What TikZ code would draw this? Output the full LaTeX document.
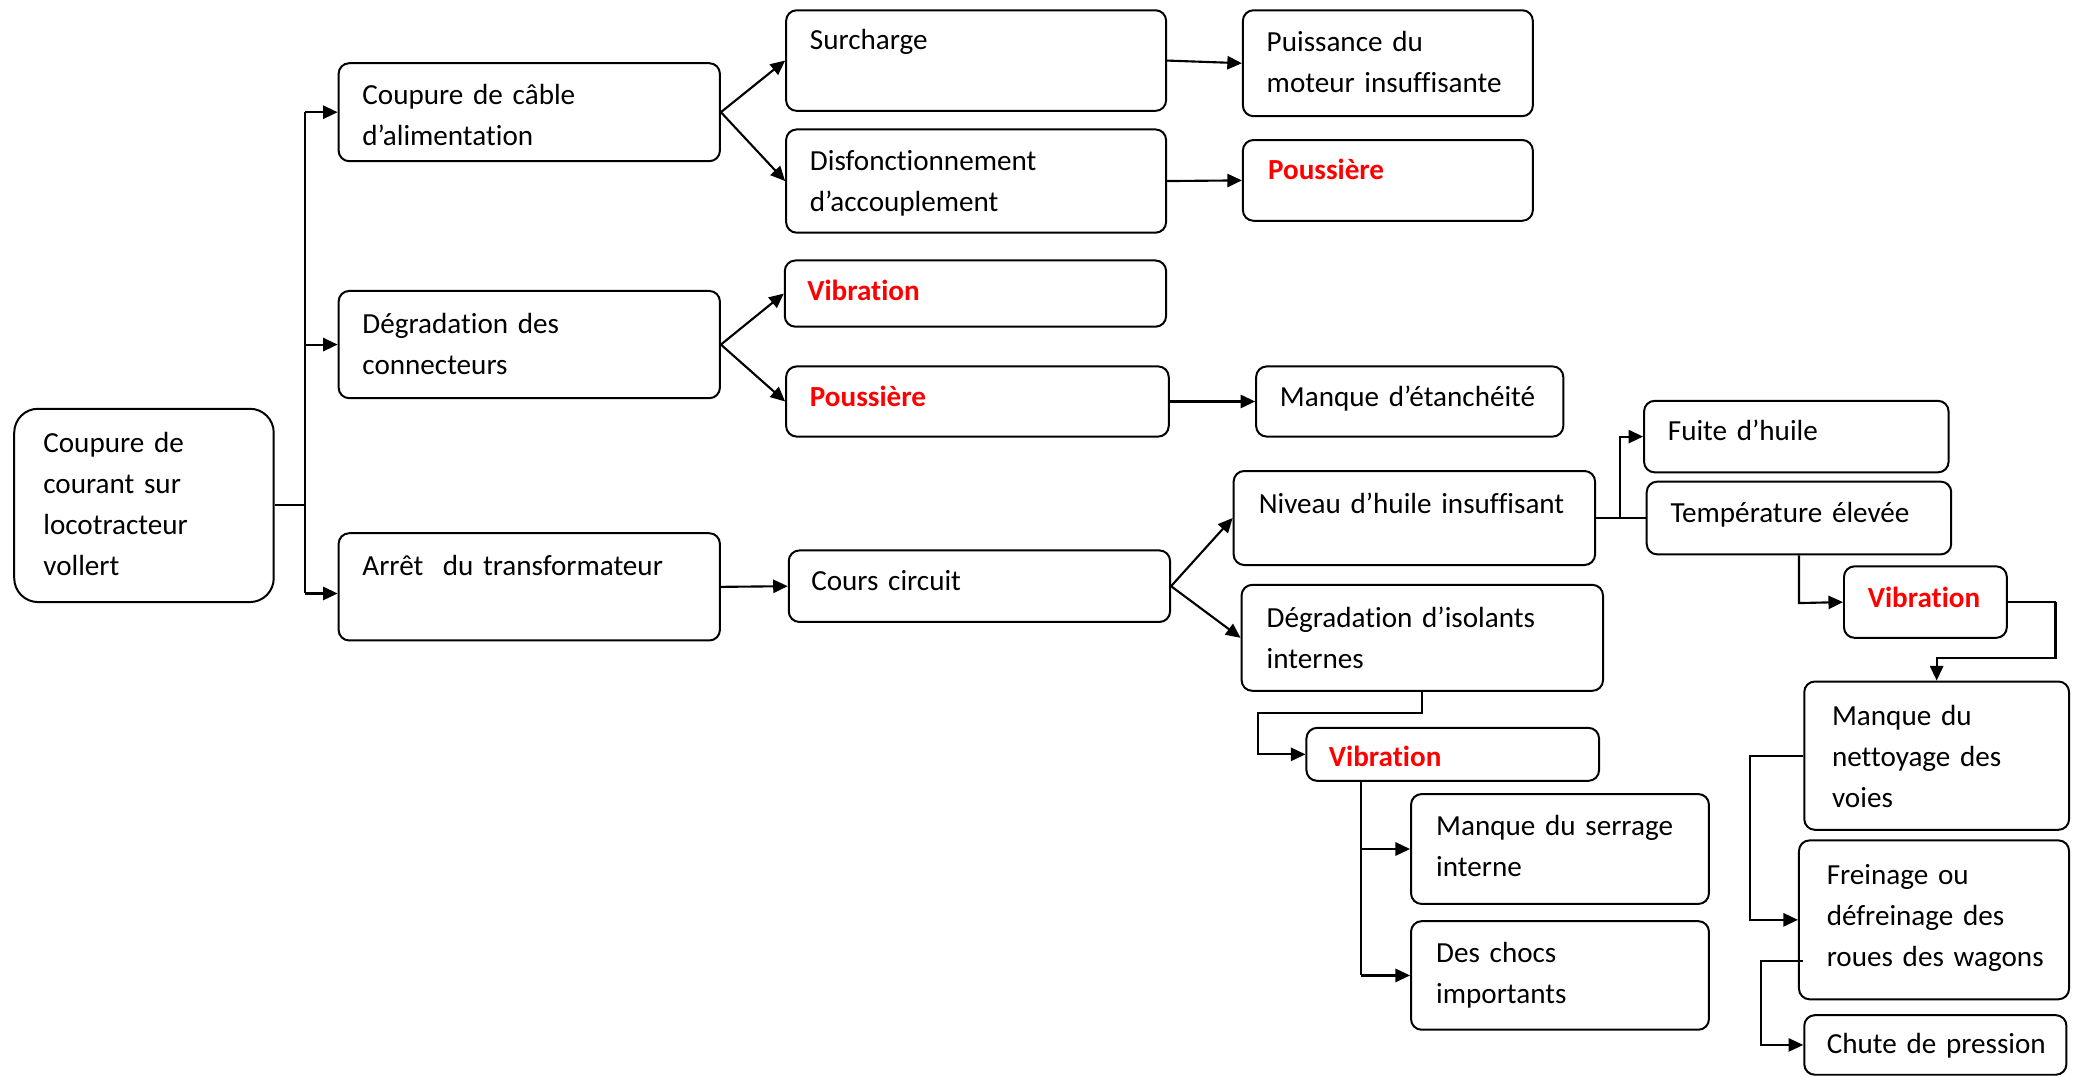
\documentclass[tikz,border=0pt]{standalone}
\usepackage{fontspec}
\setmainfont{Carlito}[Ligatures=NoCommon]
\usetikzlibrary{arrows.meta,calc}
\definecolor{redtxt}{RGB}{255,0,0}
\newcommand\bxfont{\fontsize{22pt}{31pt}\selectfont\hyphenpenalty=10000\exhyphenpenalty=10000}
\newcommand\rd[1]{\textcolor{redtxt}{\bfseries #1}}
\tikzset{
  bx/.style={draw, line width=1.5pt, rounded corners=8pt, anchor=north west,
    inner xsep=18pt, inner ysep=0pt, align=left, text height=31pt, font=\bxfont},
  ln/.style={line width=1.6pt},
  thin/.style={line width=0.9pt},
  arr/.style={line width=1.6pt, -{Triangle[length=11pt,width=10pt]}},
}
\begin{document}
\begin{tikzpicture}[x=1pt,y=-1pt]
\useasboundingbox (0,0) rectangle (1568,813);
% nodes
\node[bx, rounded corners=18pt, inner xsep=22pt, text width=152pt, text height=33pt, text depth=113pt] (root) at (10,308) {Coupure de\\courant sur\\locotracteur\\vollert};
\node[bx, text width=252pt, text depth=43pt] (c1) at (255,47) {Coupure de câble\\d’alimentation};
\node[bx, text width=252pt, text height=32pt, text depth=49pt] (dg) at (255,219) {Dégradation des\\connecteurs};
\node[bx, text width=252pt, text height=32pt, text depth=49pt] (ar) at (255,402) {Arrêt\ \ du transformateur};
\node[bx, text width=251pt, text height=30pt, text depth=46pt] (su) at (593,7) {Surcharge};
\node[bx, text width=251pt, text depth=47pt] (di) at (593,97) {Disfonctionnement\\d’accouplement};
\node[bx, text width=183pt, text depth=49pt] (pu) at (938,7) {Puissance du\\moteur~insuffisante};
\node[bx, inner xsep=19pt, text width=181pt, text height=30pt, text depth=31pt] (po1) at (938,105) {\rd{Poussière}};
\node[bx, inner xsep=17pt, text width=254pt, text height=30pt, text depth=20pt] (vi1) at (592,196) {\rd{Vibration}};
\node[bx, text width=253pt, text height=30pt, text depth=23pt] (po2) at (593,276) {\rd{Poussière}};
\node[bx, text width=196pt, text height=30pt, text depth=23pt] (ma) at (948,276) {Manque~d’étanchéité};
\node[bx, inner xsep=17pt, text width=254pt, text height=30pt, text depth=24pt] (cc) at (595,415) {Cours circuit};
\node[bx, inner xsep=19pt, text width=235pt, text height=32pt, text depth=39pt] (ni) at (931,355) {Niveau~d’huile~insuffisant};
\node[bx, inner xsep=19pt, text width=235pt, text height=32pt, text depth=48pt] (de) at (937,441) {Dégradation~d’isolants\\internes};
\node[bx, text width=194pt, text height=30pt, text depth=24pt] (fu) at (1241,302) {Fuite d’huile};
\node[bx, text width=194pt, text depth=24pt] (te) at (1243,363) {Température~élevée};
\node[bx, text width=87pt, text depth=23pt] (vi2) at (1392,427) {\rd{Vibration}};
\node[bx, inner xsep=21pt, text width=158pt, text height=33pt, text depth=79pt] (ne) at (1362,514) {Manque du\\nettoyage~des\\voies};
\node[bx, inner xsep=21pt, text width=162pt, text height=33pt, text depth=87pt] (fr) at (1358,634) {Freinage ou\\défreinage~des\\roues~des~wagons};
\node[bx, inner xsep=17pt, text width=164pt, text height=29pt, text depth=16pt] (ch) at (1362,766) {Chute~de~pression};
\node[bx, inner xsep=17pt, text width=187pt, text height=29pt, text depth=11pt] (vi3) at (986,549) {\rd{Vibration}};
\node[bx, inner xsep=19pt, text width=187pt, text depth=52pt] (se) at (1065,599) {Manque~du~serrage\\interne};
\node[bx, inner xsep=19pt, text width=187pt, text depth=51pt] (dc) at (1065,695) {Des chocs\\importants};
% trunk from root
\draw[ln] (root.east) -- ++(23,0) coordinate (t);
\coordinate (arw) at ([yshift=-5pt]ar.west);
\draw[ln] (c1.west -| t) -- (arw -| t);
\draw[arr] (c1.west -| t) -- (c1.west);
\draw[arr] (dg.west -| t) -- (dg.west);
\draw[arr] (arw -| t) -- (arw);
% level 2
\draw[arr] (c1.east) -- (su.west);
\draw[arr] (c1.east) -- (di.west);
\draw[arr] (su.east) -- (pu.west);
\draw[arr] (di.east) -- (po1.west);
\draw[arr] (dg.east) -- (vi1.west);
\draw[arr] (dg.east) -- (po2.west);
\draw[arr] (po2.east) -- (ma.west);
\draw[arr] (ar.east) -- (cc.west);
\draw[arr] (cc.east) -- (ni.west);
\draw[arr] (cc.east) -- (de.west);
% niveau d'huile
\draw[ln] (ni.east) -- ++(18,0) coordinate (nb);
\draw[arr] (nb) -- (nb |- fu.west) -- (fu.west);
\draw[thin] (nb) -- (te.west);
% temperature -> vibration -> nettoyage
\coordinate (tb) at ([yshift=-36pt]te.south);
\draw[arr] (te.south) -- (tb) -- (vi2.west);
\draw[ln] (vi2.east) -- ++(36,0) coordinate (vr);
\coordinate (vd) at ([yshift=17pt]ne.north);
\draw[arr] (vr) -- (vr |- vd) -- (vd) -- (ne.north);
% nettoyage -> freinage
\draw[arr] (ne.west) -- ++(-40,0) coordinate (nl) -- (nl |- fr.west) -- (fr.west);
% freinage -> chute
\coordinate (fo) at ([yshift=-31pt,xshift=4pt]fr.west);
\draw[arr, line width=1.2pt] (fo) -- ++(-32,0) coordinate (fl) -- (fl |- ch.west) -- (ch.west);
% degradation d'isolants -> vibration
\coordinate (db) at ([yshift=-16pt]de.south);
\coordinate (dl) at ([xshift=-36pt]vi3.west);
\draw[arr] (de.south) -- (db) -- (db -| dl) -- (dl) -- (vi3.west);
% vibration -> serrage, chocs
\coordinate (v3) at ([xshift=42pt]vi3.south west);
\draw[ln] (v3) -- (v3 |- dc.west);
\draw[arr] (v3 |- se.west) -- (se.west);
\draw[arr] (v3 |- dc.west) -- (dc.west);
\end{tikzpicture}
\end{document}
